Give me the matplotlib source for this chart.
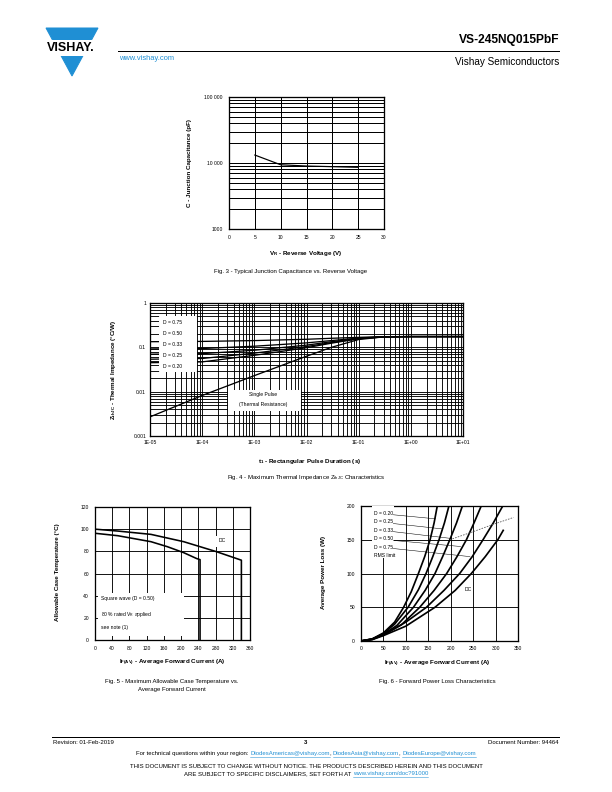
import matplotlib
matplotlib.use('Agg')
import matplotlib.pyplot as plt
from matplotlib.ticker import FixedLocator, NullFormatter, LogLocator, MultipleLocator
from matplotlib.patches import Rectangle, Polygon
from matplotlib.lines import Line2D

# ---- data ----
# Fig. 3 junction capacitance
cap_vr = [5, 10, 15, 20, 25]
cap_pf = [13200, 9400, 9000, 8800, 8600]

# Fig. 4 thermal impedance
zth_t = [1e-5, 1e-4, 1e-3, 1e-2, 3e-2, 1e-1, 3e-1, 1, 10]
zth_single = [0.0027, 0.0082, 0.023, 0.063, 0.100, 0.150, 0.172, 0.175, 0.175]
zth_d75 = [0.134, 0.136, 0.142, 0.152, 0.160, 0.168, 0.174, 0.175, 0.175]
zth_d50 = [0.092, 0.094, 0.106, 0.126, 0.142, 0.162, 0.173, 0.175, 0.175]
zth_d33 = [0.070, 0.072, 0.086, 0.112, 0.134, 0.159, 0.172, 0.175, 0.175]
zth_d25 = [0.054, 0.056, 0.074, 0.104, 0.128, 0.157, 0.172, 0.175, 0.175]
zth_d20 = [0.045, 0.047, 0.066, 0.098, 0.124, 0.156, 0.172, 0.175, 0.175]
d_labels = ["D = 0.75", "D = 0.50", "D = 0.33", "D = 0.25", "D = 0.20"]

# Fig. 5 case temperature
sq_i = [0, 53, 130, 168, 206, 236, 244, 244]
sq_t = [96.3, 94.1, 88.7, 84.2, 78.8, 73.5, 72.5, 0]
dc_i = [0, 53, 130, 206, 282, 340, 340]
dc_t = [100, 98.3, 95.3, 88.7, 79.7, 72, 0]

# Fig. 6 power loss
p_d20_i = [0, 25, 50, 75, 95, 112, 128, 142, 154, 163, 170]
p_d20 = [0, 3, 12, 28, 50, 73, 100, 125, 150, 175, 200]
p_d25_i = [0, 25, 50, 75, 105, 128, 145, 160, 174, 186, 196]
p_d25 = [0, 3, 11, 25, 50, 76, 100, 125, 150, 175, 200]
p_d33_i = [0, 25, 50, 80, 117, 143, 165, 182, 198, 213, 226]
p_d33 = [0, 3, 10, 23, 50, 75, 100, 125, 150, 175, 200]
p_d50_i = [0, 25, 50, 90, 131, 163, 191, 214, 235, 252, 268]
p_d50 = [0, 2.5, 9, 24, 50, 75, 100, 125, 150, 175, 200]
p_d75_i = [0, 25, 50, 100, 146, 185, 220, 248, 272, 295, 316]
p_d75 = [0, 2.5, 9, 28, 50, 75, 100, 125, 150, 175, 200]
p_dc_i = [0, 25, 50, 100, 165, 210, 246, 277, 305, 318]
p_dc = [0, 2, 8, 22, 50, 75, 100, 125, 150, 165]
rms_i = [198, 250, 300, 340]
rms_p = [150, 162, 174, 183]
p_labels = ["D = 0.20", "D = 0.25", "D = 0.33", "D = 0.50", "D = 0.75", "RMS limit"]

# ---- page setup ----
W, H = 612, 792
plt.rcParams['font.family'] = ['Liberation Sans', 'DejaVu Sans']
plt.rcParams['mathtext.fontset'] = 'custom'
plt.rcParams['mathtext.rm'] = 'Liberation Sans'
plt.rcParams['mathtext.it'] = 'Liberation Sans:italic'
plt.rcParams['mathtext.bf'] = 'Liberation Sans:bold'

fig = plt.figure(figsize=(W / 72, H / 72), dpi=72)
BLUE = '#1f8fd4'


def fx(x):
    return x / W


def fy(y):
    return 1 - y / H


def box(l, t, r, b):
    return [l / W, 1 - b / H, (r - l) / W, (b - t) / H]


def txt(x, y, s, **kw):
    kw.setdefault('va', 'center')
    return fig.text(fx(x), fy(y), s, **kw)


def style_axes(ax, xpad, ypad):
    for sp in ax.spines.values():
        sp.set_linewidth(1.3)
        sp.set_color('black')
    ax.tick_params(which='both', length=0, labelsize=5, colors='black')
    ax.tick_params(axis='x', pad=xpad)
    ax.tick_params(axis='y', pad=ypad)
    ax.set_axisbelow(True)


# ---- header ----
fig.patches.append(Polygon([(fx(46), fy(28)), (fx(98), fy(28)), (fx(72), fy(76))],
                           closed=True, color=BLUE, transform=fig.transFigure))
fig.patches.append(Rectangle((fx(38), fy(55)), 64 / W, 15.5 / H, color='white',
                             transform=fig.transFigure))
txt(71, 48, "VISHAY.", ha='center', fontsize=12.5, fontweight='bold')
txt(119, 58, "www.vishay.com", fontsize=7.5, color=BLUE)
fig.add_artist(Line2D([fx(118), fx(559)], [fy(51), fy(51)], color='black', lw=1))
txt(559, 40, "VS-245NQ015PbF", ha='right', fontsize=12, fontweight='bold')
txt(559, 62, "Vishay Semiconductors", ha='right', fontsize=10)

# ---- Fig. 3 ----
ax3 = fig.add_axes(box(229, 97, 384, 229))
ax3.set_yscale('log')
ax3.set_xlim(0, 30)
ax3.set_ylim(1000, 100000)
ax3.plot(cap_vr, cap_pf, color='black', lw=1.2)
ax3.xaxis.set_major_locator(MultipleLocator(5))
ax3.yaxis.set_major_locator(FixedLocator([1000, 10000, 100000]))
ax3.set_yticklabels(["1000", "10 000", "100 000"])
ax3.yaxis.set_minor_locator(LogLocator(base=10, subs=range(2, 10)))
ax3.yaxis.set_minor_formatter(NullFormatter())
ax3.grid(True, which='major', axis='x', color='black', lw=1)
ax3.grid(True, which='both', axis='y', color='black', lw=1)
style_axes(ax3, 6, 6)
txt(190, 163, "C - Junction Capacitance (pF)", rotation=90, ha='center', fontsize=6.3, fontweight='bold')
txt(306, 254, r"V$_\mathbf{R}$ - Reverse Voltage (V)", ha='center', fontsize=6.3, fontweight='bold')
txt(291, 271, "Fig. 3 - Typical Junction Capacitance vs. Reverse Voltage", ha='center', fontsize=6)

# ---- Fig. 4 ----
ax4 = fig.add_axes(box(150, 303, 463, 436))
ax4.set_xscale('log')
ax4.set_yscale('log')
ax4.set_xlim(1e-5, 10)
ax4.set_ylim(1e-3, 1)
for z in [zth_d75, zth_d50, zth_d33, zth_d25, zth_d20, zth_single]:
    ax4.plot(zth_t, z, color='black', lw=1.3)
ax4.xaxis.set_major_locator(FixedLocator([1e-5, 1e-4, 1e-3, 1e-2, 1e-1, 1, 10]))
ax4.set_xticklabels(["1E-05", "1E-04", "1E-03", "1E-02", "1E-01", "1E+00", "1E+01"])
ax4.yaxis.set_major_locator(FixedLocator([1e-3, 1e-2, 1e-1, 1]))
ax4.set_yticklabels(["0.001", "0.01", "0.1", "1"])
for a in (ax4.xaxis, ax4.yaxis):
    a.set_minor_locator(LogLocator(base=10, subs=range(2, 10), numticks=20))
    a.set_minor_formatter(NullFormatter())
ax4.grid(True, which='both', color='black', lw=0.9)
style_axes(ax4, 4, 4)
ax4.add_patch(Rectangle((0.029, 0.489), 0.118, 0.413, transform=ax4.transAxes,
                        color='white', zorder=5))
for k, lab in enumerate(d_labels):
    ax4.text(0.04, 0.853 - k * 0.082, lab, transform=ax4.transAxes, fontsize=5,
             va='center', zorder=6)
ax4.add_patch(Rectangle((0.249, 0.195), 0.23, 0.151, transform=ax4.transAxes,
                        color='white', zorder=5))
ax4.text(0.362, 0.31, "Single Pulse", transform=ax4.transAxes, fontsize=5,
         ha='center', va='center', zorder=6)
ax4.text(0.362, 0.235, "(Thermal Resistance)", transform=ax4.transAxes, fontsize=5,
         ha='center', va='center', zorder=6)
txt(114, 370, r"Z$_\mathbf{thJC}$ - Thermal Impedance (°C/W)", rotation=90, ha='center',
    fontsize=6.3, fontweight='bold')
txt(310, 461, r"t$_\mathbf{1}$ - Rectangular Pulse Duration (s)", ha='center', fontsize=6.3,
    fontweight='bold')
txt(306, 477, r"Fig. 4 - Maximum Thermal Impedance Z$_\mathregular{thJC}$ Characteristics",
    ha='center', fontsize=6)

# ---- Fig. 5 ----
ax5 = fig.add_axes(box(95, 507, 250, 640))
ax5.set_xlim(0, 360)
ax5.set_ylim(0, 120)
ax5.plot(sq_i, sq_t, color='black', lw=1.6)
ax5.plot(dc_i, dc_t, color='black', lw=1.6)
ax5.xaxis.set_major_locator(MultipleLocator(40))
ax5.yaxis.set_major_locator(MultipleLocator(20))
ax5.grid(True, color='black', lw=0.9)
style_axes(ax5, 6, 6)
ax5.add_patch(Rectangle((0.02, 0.04), 0.55, 0.315, transform=ax5.transAxes,
                        color='white', zorder=5))
ax5.text(0.04, 0.31, "Square wave (D = 0.50)", transform=ax5.transAxes, fontsize=5,
         va='center', zorder=6)
ax5.text(0.04, 0.19, r"80 % rated V$_\mathregular{R}$ applied", transform=ax5.transAxes,
         fontsize=5, va='center', zorder=6)
ax5.text(0.04, 0.095, "see note (1)", transform=ax5.transAxes, fontsize=5,
         va='center', zorder=6)
ax5.add_patch(Rectangle((0.76, 0.71), 0.12, 0.075, transform=ax5.transAxes,
                        color='white', zorder=5))
ax5.text(0.82, 0.745, "DC", transform=ax5.transAxes, fontsize=5, ha='center',
         va='center', zorder=6)
txt(58, 572, "Allowable Case Temperature (°C)", rotation=90, ha='center', fontsize=6.3,
    fontweight='bold')
txt(172, 663, r"I$_\mathbf{F(AV)}$ - Average Forward Current (A)", ha='center', fontsize=6.3,
    fontweight='bold')
txt(172, 681, "Fig. 5 - Maximum Allowable Case Temperature vs.", ha='center', fontsize=6)
txt(172, 690, "Average Forward Current", ha='center', fontsize=6)

# ---- Fig. 6 ----
ax6 = fig.add_axes(box(361, 506, 518, 641))
ax6.set_xlim(0, 350)
ax6.set_ylim(0, 200)
for xi, yi in [(p_d20_i, p_d20), (p_d25_i, p_d25), (p_d33_i, p_d33),
               (p_d50_i, p_d50), (p_d75_i, p_d75), (p_dc_i, p_dc)]:
    ax6.plot(xi, yi, color='black', lw=1.7, solid_capstyle='butt')
ax6.plot(rms_i, rms_p, color='#555555', lw=0.8, ls=(0, (2, 1.5)))
ax6.xaxis.set_major_locator(MultipleLocator(50))
ax6.yaxis.set_major_locator(MultipleLocator(50))
ax6.grid(True, color='black', lw=0.9)
style_axes(ax6, 5, 6)
ax6.add_patch(Rectangle((24, 125), 48, 78, color='white', zorder=3))
for k, lab in enumerate(p_labels):
    ax6.text(28, 189 - k * 12.5, lab, fontsize=5, va='center', zorder=4)
leader_start = [(72, 187), (72, 174), (72, 162), (72, 149), (72, 137)]
leader_end = [(166, 181), (182, 166), (200, 152), (222, 140), (243, 125)]
for (x0, y0), (x1, y1) in zip(leader_start, leader_end):
    ax6.plot([x0, x1], [y0, y1], color='black', lw=0.5, zorder=4)
ax6.text(238, 77, "DC", fontsize=5, ha='center', va='center')
txt(324, 572, "Average Power Loss (W)", rotation=90, ha='center', fontsize=6.3,
    fontweight='bold')
txt(437, 664, r"I$_\mathbf{F(AV)}$ - Average Forward Current (A)", ha='center', fontsize=6.3,
    fontweight='bold')
txt(437, 681, "Fig. 6 - Forward Power Loss Characteristics", ha='center', fontsize=6)

# ---- footer ----
fig.add_artist(Line2D([fx(52), fx(559)], [fy(737), fy(737)], color='black', lw=1))
txt(53, 743, "Revision: 01-Feb-2019", fontsize=6)
txt(306, 743, "3", ha='center', fontsize=6, fontweight='bold')
txt(559, 743, "Document Number: 94464", ha='right', fontsize=6)

renderer = fig.canvas.get_renderer()


def rich_line(y, pieces, cx=306, size=6):
    objs = [txt(0, y, s, fontsize=size, color=(BLUE if link else 'black'))
            for s, link in pieces]
    widths = [o.get_window_extent(renderer).width for o in objs]
    x = cx - sum(widths) / 2
    for o, w, (s, link) in zip(objs, widths, pieces):
        o.set_x(fx(x))
        if link:
            fig.add_artist(Line2D([fx(x), fx(x + w)], [fy(y + 3.2), fy(y + 3.2)],
                                  color=BLUE, lw=0.5))
        x += w


rich_line(754, [("For technical questions within your region: ", False),
                ("DiodesAmericas@vishay.com", True), (", ", False),
                ("DiodesAsia@vishay.com", True), (", ", False),
                ("DiodesEurope@vishay.com", True)])
txt(306, 766, "THIS DOCUMENT IS SUBJECT TO CHANGE WITHOUT NOTICE. THE PRODUCTS DESCRIBED HEREIN AND THIS DOCUMENT",
    ha='center', fontsize=6)
rich_line(774, [("ARE SUBJECT TO SPECIFIC DISCLAIMERS, SET FORTH AT ", False),
                ("www.vishay.com/doc?91000", True)])

fig.savefig("out.png", dpi=72)
